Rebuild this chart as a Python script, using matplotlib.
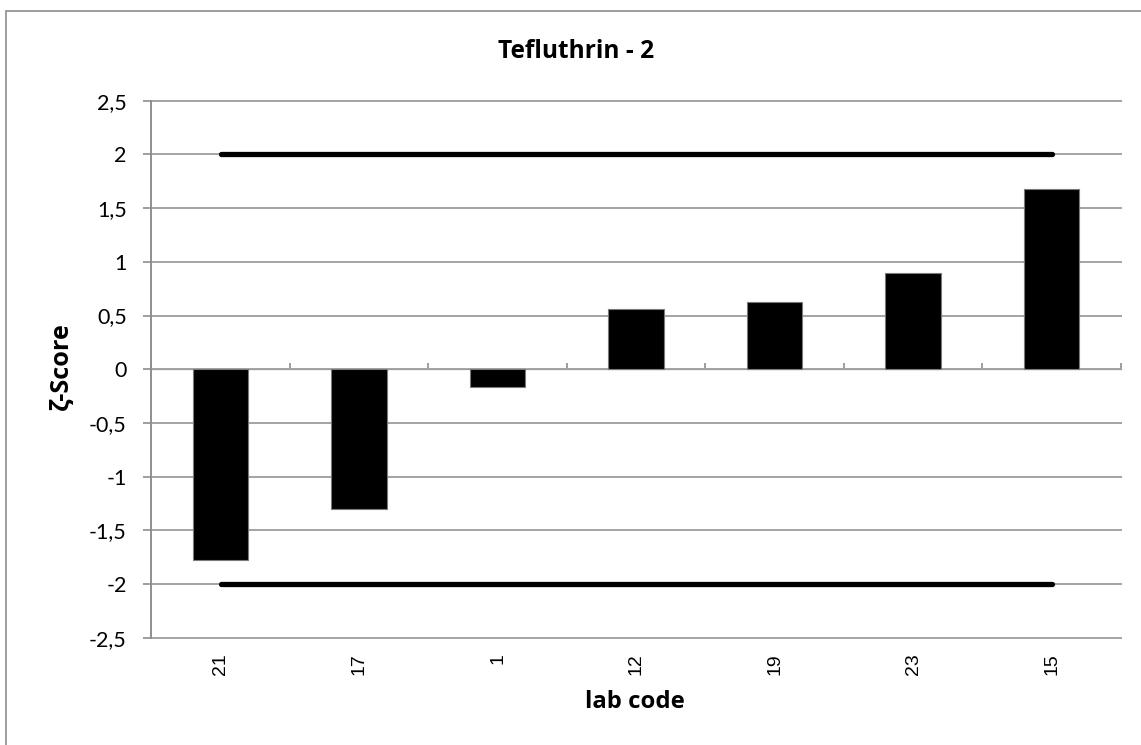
import matplotlib
matplotlib.use("Agg")
import matplotlib.pyplot as plt
import numpy as np
from matplotlib.patches import Rectangle

labs = ["21", "17", "1", "12", "19", "23", "15"]
zscores = [-1.78, -1.30, -0.165, 0.557, 0.625, 0.893, 1.674]
limit_upper = 2
limit_lower = -2
yticks = [-2.5, -2, -1.5, -1, -0.5, 0, 0.5, 1, 1.5, 2, 2.5]
ytick_labels = ["-2,5", "-2", "-1,5", "-1", "-0,5", "0", "0,5", "1", "1,5", "2", "2,5"]
title = "Tefluthrin - 2"
xlabel = "lab code"
ylabel = "ζ-Score"

W, H = 1141, 745
fig = plt.figure(figsize=(W / 100, H / 100), dpi=100)
fig.patch.set_facecolor("white")

# outer chart border (only top/left visible in reference)
fig.patches.append(Rectangle((6 / W, -0.5), 2, 1.5 - 11 / H, transform=fig.transFigure,
                             fill=False, edgecolor="#8c8c8c", linewidth=1.2, zorder=0))

left, right, top, bottom = 151.4, 1120.8, 100.7, 637.7
ax = fig.add_axes([left / W, 1 - bottom / H, (right - left) / W, (bottom - top) / H])

grid_c = "#a3a3a3"
axis_c = "#8e8e8e"
x = np.arange(len(labs))
ax.set_xlim(-0.5, len(labs) - 0.5)
ax.set_ylim(yticks[0], yticks[-1])

for yv in yticks:
    ax.axhline(yv, color=grid_c, lw=1.4, zorder=1, clip_on=False)

ax.bar(x, zscores, width=0.4, color="black", edgecolor="#7a7a7a", linewidth=0.8, zorder=3)

ax.plot([x[0], x[-1]], [limit_upper, limit_upper], color="black", lw=3.8,
        solid_capstyle="round", zorder=4)
ax.plot([x[0], x[-1]], [limit_lower, limit_lower], color="black", lw=3.8,
        solid_capstyle="round", zorder=4)

for s in ["top", "right", "bottom"]:
    ax.spines[s].set_visible(False)
ax.spines["left"].set_color(axis_c)
ax.spines["left"].set_linewidth(1.4)

ax.set_yticks(yticks)
ax.set_yticklabels(ytick_labels, fontfamily="Lato", fontsize=15.5)
ax.tick_params(axis="y", direction="out", length=5.8, width=1.2, color=axis_c, pad=12)

ax.set_xticks(x)
ax.set_xticklabels(labs, rotation=90, fontfamily="Liberation Sans", fontsize=14, va="top")
ax.tick_params(axis="x", length=0, pad=11)

# category axis at zero with boundary ticks
loc0 = (0 - yticks[0]) / (yticks[-1] - yticks[0])
sec = ax.secondary_xaxis(loc0)
sec.set_xticks([])
sec.set_xticks(np.arange(len(labs) + 1) - 0.5, minor=True)
sec.spines["bottom"].set_color(axis_c)
sec.spines["bottom"].set_linewidth(1.4)
sec.tick_params(axis="x", which="minor", direction="out", length=4.5, width=1.2, color=axis_c,
                labelbottom=False)
sec.tick_params(axis="x", which="major", length=0, labelbottom=False)

bold_font = ["Open Sans", "DejaVu Sans"]
t_title = fig.text(576.5 / W, 1 - 51 / H, title, family=bold_font, fontweight="bold",
                   fontsize=17, ha="center", va="center")
t_xl = fig.text(634.5 / W, 1 - 702 / H, xlabel, family=bold_font, fontweight="bold",
                fontsize=17, ha="center", va="center")
t_yl = fig.text(61 / W, 1 - 366 / H, ylabel, family=bold_font, fontweight="bold",
                fontsize=17, ha="center", va="center", rotation=90)

# fit text sizes to the measured extents of the reference
fig.canvas.draw()
r = fig.canvas.get_renderer()
for t, target, horiz in [(t_title, 157, True), (t_xl, 99, True), (t_yl, 88, False)]:
    bb = t.get_window_extent(r)
    cur = bb.width if horiz else bb.height
    t.set_fontsize(t.get_fontsize() * target / cur)

fig.savefig("out.png", dpi=100, facecolor="white")
